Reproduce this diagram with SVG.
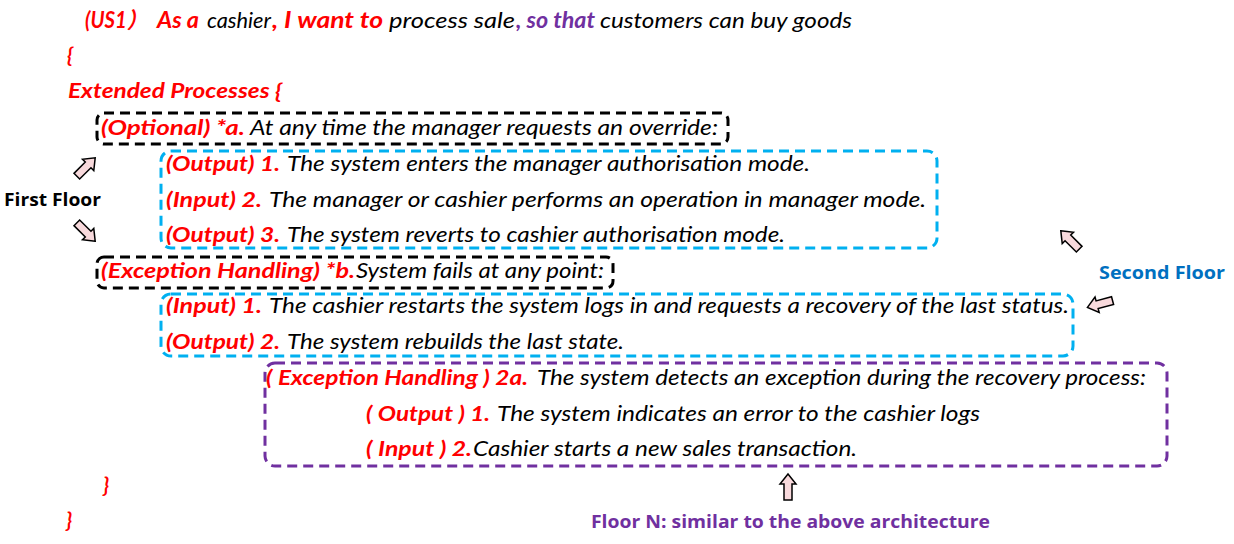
<svg xmlns="http://www.w3.org/2000/svg" xmlns:xlink="http://www.w3.org/1999/xlink" width="1234" height="544" viewBox="0 0 1234 544">
<style>
text { font-family: Lato, "Noto Sans CJK SC", sans-serif; font-size: 21px; }
.r { fill: #FF0000; font-weight: bold; font-style: italic; }
.k { fill: #000000; font-style: italic; }
.p { fill: #7030A0; font-weight: bold; font-style: italic; }
.t { font-size: 22px; }
.box { fill: none; stroke-width: 3; stroke-dasharray: 10 6; }
.bk { stroke: #000000; }
.bl { stroke: #00B0F0; }
.pu { stroke: #7030A0; }
.arr { fill: #F8D9DC; stroke: #000000; stroke-width: 1.5; stroke-linejoin: miter; }
.lab { font-family: "Open Sans", "Noto Sans", sans-serif; font-weight: bold; font-size: 17px; }
</style>
<defs>
<path id="arrow" d="M0,-13 L8,-3 L4,-3 L4,13 L-4,13 L-4,-3 L-8,-3 Z"/>
</defs>
<rect width="1234" height="544" fill="#FFFFFF"/>

<g id="header">
<text class="r t" x="85" y="28" textLength="62" lengthAdjust="spacingAndGlyphs">(US1）</text>
<text class="r t" x="157" y="28" textLength="42" lengthAdjust="spacingAndGlyphs">As a</text>
<text class="k t" x="207" y="28" textLength="64" lengthAdjust="spacingAndGlyphs">cashier</text>
<text class="r t" x="272" y="28" textLength="111" lengthAdjust="spacingAndGlyphs">, I want to</text>
<text class="k t" x="389" y="28" textLength="126" lengthAdjust="spacingAndGlyphs">process sale</text>
<text class="p t" x="516" y="28" textLength="79" lengthAdjust="spacingAndGlyphs">, so that</text>
<text class="k t" x="600" y="28" textLength="252" lengthAdjust="spacingAndGlyphs">customers can buy goods</text>
<text class="r" x="67" y="62">{</text>
<text class="r" x="68" y="98" textLength="214" lengthAdjust="spacingAndGlyphs">Extended Processes {</text>
</g>

<g id="optional-a">
<rect class="box bk" x="97" y="113" width="631" height="31" rx="7"/>
<text class="r" x="101" y="135" textLength="144" lengthAdjust="spacingAndGlyphs">(Optional) *a.</text>
<text class="k" x="250" y="135" textLength="468" lengthAdjust="spacingAndGlyphs">At any time the manager requests an override:</text>
</g>

<g id="floor1-a-steps">
<rect class="box bl" x="161" y="151" width="776" height="97" rx="10"/>
<text class="r" x="166" y="171" textLength="114" lengthAdjust="spacingAndGlyphs">(Output) 1.</text>
<text class="k" x="287" y="171" textLength="523" lengthAdjust="spacingAndGlyphs">The system enters the manager authorisation mode.</text>
<text class="r" x="166" y="207" textLength="96" lengthAdjust="spacingAndGlyphs">(Input) 2.</text>
<text class="k" x="269" y="207" textLength="657" lengthAdjust="spacingAndGlyphs">The manager or cashier performs an operation in manager mode.</text>
<text class="r" x="166" y="242" textLength="114" lengthAdjust="spacingAndGlyphs">(Output) 3.</text>
<text class="k" x="287" y="242" textLength="498" lengthAdjust="spacingAndGlyphs">The system reverts to cashier authorisation mode.</text>
</g>

<g id="exception-b">
<rect class="box bk" x="97" y="257" width="516" height="31" rx="7"/>
<text class="r" x="101" y="278" textLength="254" lengthAdjust="spacingAndGlyphs">(Exception Handling) *b.</text>
<text class="k" x="356" y="278" textLength="248" lengthAdjust="spacingAndGlyphs">System fails at any point:</text>
</g>

<g id="floor1-b-steps">
<rect class="box bl" x="161" y="294" width="912" height="62" rx="10"/>
<text class="r" x="166" y="313" textLength="96" lengthAdjust="spacingAndGlyphs">(Input) 1.</text>
<text class="k" x="269" y="313" textLength="800" lengthAdjust="spacingAndGlyphs">The cashier restarts the system logs in and requests a recovery of the last status.</text>
<text class="r" x="166" y="349" textLength="114" lengthAdjust="spacingAndGlyphs">(Output) 2.</text>
<text class="k" x="287" y="349" textLength="337" lengthAdjust="spacingAndGlyphs">The system rebuilds the last state.</text>
</g>

<g id="floor2-exception">
<rect class="box pu" x="265" y="363" width="902" height="103" rx="10"/>
<text class="r" x="266" y="385" textLength="262" lengthAdjust="spacingAndGlyphs">( Exception Handling ) 2a.</text>
<text class="k" x="537" y="385" textLength="609" lengthAdjust="spacingAndGlyphs">The system detects an exception during the recovery process:</text>
<text class="r" x="366" y="421" textLength="124" lengthAdjust="spacingAndGlyphs">( Output ) 1.</text>
<text class="k" x="497" y="421" textLength="483" lengthAdjust="spacingAndGlyphs">The system indicates an error to the cashier logs</text>
<text class="r" x="366" y="456" textLength="106" lengthAdjust="spacingAndGlyphs">( Input ) 2.</text>
<text class="k" x="473" y="456" textLength="384" lengthAdjust="spacingAndGlyphs">Cashier starts a new sales transaction.</text>
</g>

<g id="closing">
<text class="r" x="103" y="492">}</text>
<text class="r" x="66" y="527">}</text>
</g>

<g id="labels">
<text class="lab" x="4" y="206" fill="#000000" textLength="97" lengthAdjust="spacingAndGlyphs">First Floor</text>
<text class="lab" x="1099" y="279" fill="#0070C0" textLength="126" lengthAdjust="spacingAndGlyphs">Second Floor</text>
<text class="lab" x="591" y="528" fill="#7030A0" textLength="399" lengthAdjust="spacingAndGlyphs">Floor N: similar to the above architecture</text>
</g>

<g id="connectors">
<use xlink:href="#arrow" class="arr" transform="translate(86,167) rotate(45)"/>
<use xlink:href="#arrow" class="arr" transform="translate(86,232) rotate(135)"/>
<use xlink:href="#arrow" class="arr" transform="translate(1070,240) rotate(-45)"/>
<use xlink:href="#arrow" class="arr" transform="translate(1100,304) rotate(-105)"/>
<use xlink:href="#arrow" class="arr" transform="translate(788,487)"/>
</g>
</svg>
